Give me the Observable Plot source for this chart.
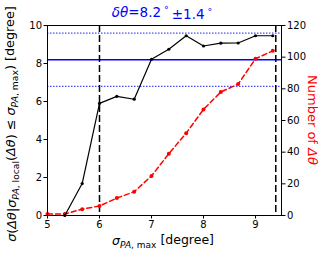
<!DOCTYPE html>
<html><head><meta charset="utf-8">
<script src="https://cdn.jsdelivr.net/npm/d3@7"></script>
<script src="https://cdn.jsdelivr.net/npm/@observablehq/plot@0.6"></script>
<style>body{margin:0;background:#fff;font-family:"DejaVu Sans",sans-serif}</style>
</head><body><div id="chart"></div>
<script>
const xs = [5.0, 5.333, 5.667, 6.0, 6.333, 6.667, 7.0, 7.333, 7.667, 8.0, 8.333, 8.667, 9.0, 9.333];
const sigma = [null, 0.0, 1.68, 5.9, 6.27, 6.12, 8.22, 8.75, 9.46, 8.92, 9.07, 9.08, 9.46, 9.46];
const counts = [1, 1, 4, 6, 11, 15, 25, 39, 52, 67, 78, 83, 99, 104];
const meanDelta = 8.2, errDelta = 1.4;
const cuts = [6.0, 9.39];
const xTicks = [5, 6, 7, 8, 9];
const yTicks = [0, 2, 4, 6, 8, 10];
const y2Ticks = [0, 20, 40, 60, 80, 100, 120];
const y2Max = 120, yMax = 10;
const k = yMax / y2Max;

const blackData = xs.map((x, i) => ({x, y: sigma[i]})).filter(d => d.y != null);
const redData = xs.map((x, i) => ({x, y: counts[i] * k}));

const W = 325, H = 260;
const plot = Plot.plot({
  width: W, height: H,
  marginLeft: 47, marginRight: 44, marginTop: 25, marginBottom: 45,
  style: {fontFamily: "DejaVu Sans", fontSize: "10px", color: "black", background: "white"},
  x: {domain: [5, 9.5]},
  y: {domain: [0, yMax]},
  marks: [
    Plot.ruleY([meanDelta - errDelta, meanDelta + errDelta], {stroke: "#0000ff", strokeWidth: 0.9, strokeDasharray: "1.5,1.5"}),
    Plot.ruleY([meanDelta], {stroke: "#0000ff", strokeWidth: 1.6}),
    Plot.ruleX(cuts, {stroke: "black", strokeWidth: 1.5, strokeDasharray: "7,3"}),
    Plot.line(redData, {x: "x", y: "y", stroke: "red", strokeWidth: 1.5, strokeDasharray: "5,3"}),
    Plot.dot(redData, {x: "x", y: "y", fill: "red", r: 2}),
    Plot.line(blackData, {x: "x", y: "y", stroke: "black", strokeWidth: 1.2}),
    Plot.dot(blackData, {x: "x", y: "y", fill: "black", r: 1.6}),
    Plot.frame({stroke: "black", strokeWidth: 1}),
    Plot.axisX({ticks: xTicks, tickFormat: d => d, label: null, tickSize: 3.5, tickPadding: 2}),
    Plot.axisY({ticks: yTicks, tickFormat: d => d, label: null, tickSize: 3.5, tickPadding: 2}),
    Plot.axisY({anchor: "right", ticks: y2Ticks.map(v => v * k), tickFormat: d => Math.round(d / k), label: null, tickSize: 3.5, tickPadding: 2})
  ]
});
document.getElementById("chart").appendChild(plot);

const svg = d3.select(plot);

// Title
const title = svg.append("text").attr("x", 162).attr("y", 17).attr("text-anchor", "middle")
  .attr("fill", "blue").attr("font-size", "13.5px");
title.append("tspan").attr("font-style", "italic").text("δθ");
title.append("tspan").text("=8.2");
title.append("tspan").attr("font-size", "0.7em").attr("dy", "-0.45em").text(" ° ");
title.append("tspan").attr("dy", "0.45em").text("±1.4");
title.append("tspan").attr("font-size", "0.7em").attr("dy", "-0.45em").text(" °");

// X label
const xl = svg.append("text").attr("x", 163).attr("y", 245).attr("text-anchor", "middle")
  .attr("fill", "black").attr("font-size", "12.5px");
xl.append("tspan").attr("font-style", "italic").text("σ");
xl.append("tspan").attr("font-size", "0.72em").attr("dy", "0.3em").attr("font-style", "italic").text("PA");
xl.append("tspan").attr("font-size", "0.72em").text(", max");
xl.append("tspan").attr("dy", "-0.3em").text(" [degree]");

// Left Y label
const yl = svg.append("text").attr("transform", "translate(16,124) rotate(-90)").attr("text-anchor", "middle")
  .attr("fill", "black").attr("font-size", "12.8px");
yl.append("tspan").attr("font-style", "italic").text("σ");
yl.append("tspan").text("(");
yl.append("tspan").attr("font-style", "italic").text("Δθ");
yl.append("tspan").text("|");
yl.append("tspan").attr("font-style", "italic").text("σ");
yl.append("tspan").attr("font-size", "0.72em").attr("dy", "0.3em").attr("font-style", "italic").text("PA");
yl.append("tspan").attr("font-size", "0.72em").text(", local");
yl.append("tspan").attr("dy", "-0.3em").text("(");
yl.append("tspan").attr("font-style", "italic").text("Δθ");
yl.append("tspan").text(") ≤ ");
yl.append("tspan").attr("font-style", "italic").text("σ");
yl.append("tspan").attr("font-size", "0.72em").attr("dy", "0.3em").attr("font-style", "italic").text("PA");
yl.append("tspan").attr("font-size", "0.72em").text(", max");
yl.append("tspan").attr("dy", "-0.3em").text(") [degree]");

// Right Y label
const rl = svg.append("text").attr("transform", "translate(308,120) rotate(90)").attr("text-anchor", "middle")
  .attr("fill", "red").attr("font-size", "13px");
rl.append("tspan").text("Number of ");
rl.append("tspan").attr("font-style", "italic").text("Δθ");
</script></body></html>
